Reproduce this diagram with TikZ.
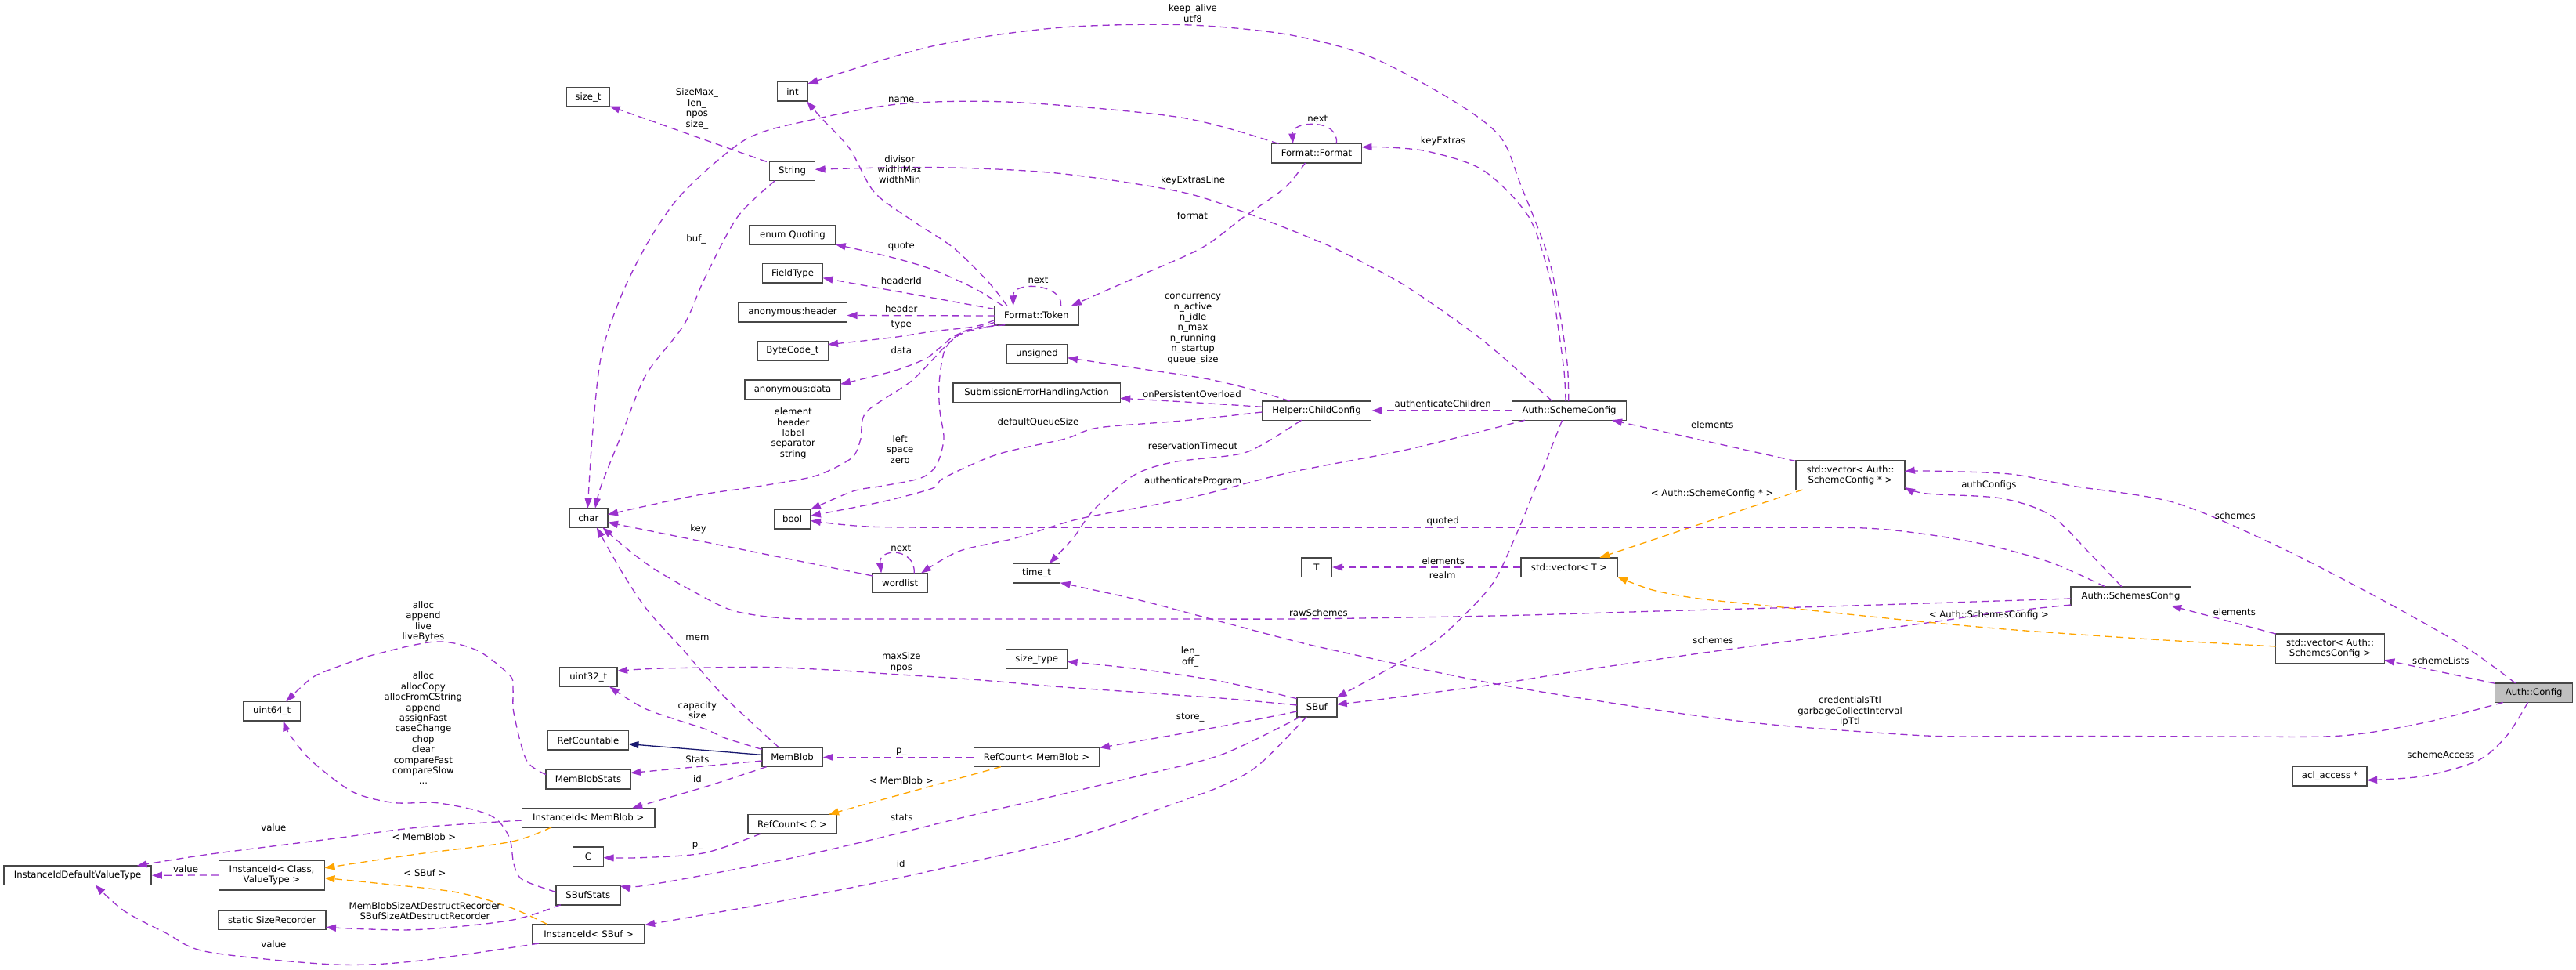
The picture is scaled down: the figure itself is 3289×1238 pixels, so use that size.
\documentclass[tikz,border=0pt]{standalone}
\usepackage{fontspec}
\setmainfont{DejaVu Sans}
\usetikzlibrary{arrows.meta}
\definecolor{purp}{HTML}{9A32CD}
\definecolor{orng}{HTML}{FFA500}
\definecolor{inhc}{HTML}{191970}
\definecolor{gfill}{HTML}{BFBFBF}
\newcommand{\myfs}{\fontsize{11.7}{13.4}\selectfont}
\tikzset{
 box/.style={draw=black!72, line width=1.5pt, fill=white, inner sep=0pt, minimum height=24.5pt, align=center, font=\myfs},
 box2/.style={box, minimum height=37.5pt},
 lbl/.style={inner sep=0pt, align=center, font=\myfs},
 uses/.style={draw=purp, line width=1.3pt, dash pattern=on 9pt off 6pt, -{Triangle[length=13pt,width=9pt,fill=purp]}},
 tmpl/.style={draw=orng, line width=1.3pt, dash pattern=on 9pt off 6pt, -{Triangle[length=13pt,width=9pt,fill=orng]}},
 inh/.style={draw=inhc, line width=1.3pt, -{Triangle[length=13pt,width=9pt,fill=inhc]}},
}
\begin{document}
\begin{tikzpicture}[x=1pt,y=-1pt]
\useasboundingbox (0,0) rectangle (3289,1238);
\fill[white] (0,0) rectangle (3289,1238);
% nodes
\node[box, minimum width=55pt] (sizet) at (751,124) {size\_t};
\node[box, minimum width=39pt] (int) at (1012,117) {int};
\node[box, minimum width=58pt] (String) at (1011.6,218.5) {String};
\node[box, minimum width=110pt] (quoting) at (1012,300) {enum Quoting};
\node[box, minimum width=77pt] (fieldtype) at (1012,349) {FieldType};
\node[box, minimum width=139pt] (anonheader) at (1012,398.5) {anonymous:header};
\node[box, minimum width=90.5pt] (bytecode) at (1012,447.6) {ByteCode\_t};
\node[box, minimum width=122pt] (anondata) at (1012,497) {anonymous:data};
\node[box, minimum width=49.3pt] (char) at (751.4,661) {char};
\node[box, minimum width=46.6pt] (bool) at (1011.6,662.5) {bool};
\node[box, minimum width=70pt] (wordlist) at (1149.2,743.8) {wordlist};
\node[box, minimum width=107pt] (token) at (1323.3,402.5) {Format::Token};
\node[box, minimum width=78pt] (unsigned) at (1324,451.5) {unsigned};
\node[box, minimum width=213.3pt] (seha) at (1323.6,501) {SubmissionErrorHandlingAction};
\node[box, minimum width=60pt] (timet) at (1323.6,731.5) {time\_t};
\node[box, minimum width=115pt] (format) at (1681,195.7) {Format::Format};
\node[box, minimum width=139.3pt] (helper) at (1681,524) {Helper::ChildConfig};
\node[box, minimum width=146pt] (schemecfg) at (2003.6,524) {Auth::SchemeConfig};
\node[box2, minimum width=138.6pt] (vecsc) at (2362.5,606.6) {std::vector< Auth::\\SchemeConfig * >};
\node[box, minimum width=38.6pt] (T) at (1681,724) {T};
\node[box, minimum width=123pt] (vecT) at (2003.6,724) {std::vector< T >};
\node[box, minimum width=51pt] (sbuf) at (1681.3,902.6) {SBuf};
\node[box, minimum width=153.5pt] (schemescfg) at (2720.5,761) {Auth::SchemesConfig};
\node[box2, minimum width=138.6pt] (vecscs) at (2975,827.7) {std::vector< Auth::\\SchemesConfig >};
\node[box, minimum width=99pt, fill=gfill] (authconfig) at (3235.2,884.2) {Auth::Config};
\node[box, minimum width=94.7pt] (acl) at (2974.8,990.5) {acl\_access *};
\node[box, minimum width=73.5pt] (uint32) at (751.3,864) {uint32\_t};
\node[box, minimum width=73pt] (uint64) at (347.2,907.8) {uint64\_t};
\node[box, minimum width=102.7pt] (refcountable) at (751,944.8) {RefCountable};
\node[box, minimum width=108pt] (memblobstats) at (751,994.5) {MemBlobStats};
\node[box, minimum width=169.5pt] (idmemblob) at (751.2,1043.5) {InstanceId< MemBlob >};
\node[box, minimum width=39.2pt] (C) at (751,1093.2) {C};
\node[box, minimum width=82pt] (sbufstats) at (750.8,1142.5) {SBufStats};
\node[box, minimum width=143pt] (idsbuf) at (751.6,1191.8) {InstanceId< SBuf >};
\node[box, minimum width=188.4pt] (idvt) at (99,1117.2) {InstanceIdDefaultValueType};
\node[box2, minimum width=135pt] (idcv) at (347,1117) {InstanceId< Class,\\ValueType >};
\node[box, minimum width=137.6pt] (sizerec) at (347.2,1174) {static SizeRecorder};
\node[box, minimum width=78pt] (sizetype) at (1323.6,841) {size\_type};
\node[box, minimum width=77.2pt] (memblob) at (1011.6,966.4) {MemBlob};
\node[box, minimum width=160.4pt] (refcountmb) at (1323.6,966.4) {RefCount< MemBlob >};
\node[box, minimum width=113.2pt] (refcountc) at (1011.6,1051.7) {RefCount< C >};
% edges
\draw[uses] plot[smooth] coordinates {([xshift=-1pt,yshift=12.25pt]schemecfg.center) (2000,455) (1979,336) (1942,237) (1915,174) (1852,126.5) (1746,71) (1640,43.5) (1508,31.6) (1349,35.6) (1190,59) ([xshift=19.6pt,yshift=10.2pt]int.center)};
\draw[uses] plot[smooth] coordinates {([xshift=-48.5pt,yshift=12.25pt]format.center) (1508,150) (1296,130.5) (1150.8,132.5) (1031.7,154) (952,178) (873,245) (830,304.5) (794,375.6) (767.5,454.7) (756,560) ([xshift=-1pt,yshift=12.25pt]char.center)};
\draw[uses] ([xshift=-32.8pt,yshift=12.1pt]String.center) -- ([xshift=27.6pt,yshift=-11.6pt]sizet.center);
\draw[uses] plot[smooth] coordinates {([xshift=-22.2pt,yshift=-12.25pt]String.center) (941.7,276.8) (899.4,355.9) (873,415) (825,478) (794,553.6) (767.5,620) ([xshift=8.6pt,yshift=12.25pt]char.center)};
\draw[uses] plot[smooth] coordinates {([xshift=-37.5pt,yshift=12.25pt]token.center) (1262,360) (1217,316) (1164,281) (1116,245) (1085,190) (1050,152) ([xshift=18pt,yshift=-12.25pt]int.center)};
\draw[uses] plot[smooth] coordinates {([xshift=-14.5pt,yshift=-12.25pt]format.center) (1640,240) (1588,277) (1535,316) (1455,352) ([xshift=44.5pt,yshift=12.25pt]token.center)};
\draw[uses] ([xshift=31.3pt,yshift=12.25pt]token.center) .. controls ([xshift=35pt,yshift=40pt]token.center) and ([xshift=-30pt,yshift=45pt]token.center) .. ([xshift=-29.6pt,yshift=12.25pt]token.center);
\draw[uses] ([xshift=25.2pt,yshift=12.25pt]format.center) .. controls ([xshift=30pt,yshift=45pt]format.center) and ([xshift=-32pt,yshift=42pt]format.center) .. ([xshift=-30.4pt,yshift=12.25pt]format.center);
\draw[uses] plot[smooth] coordinates {([xshift=-43pt,yshift=12.25pt]token.center) (1243.4,367.7) (1190.5,344) (1137.6,328.2) ([xshift=54.7pt,yshift=-12pt]quoting.center)};
\draw[uses] ([xshift=-53.5pt,yshift=8pt]token.center) -- ([xshift=38.5pt,yshift=-5.7pt]fieldtype.center);
\draw[uses] ([xshift=-53.5pt,yshift=-0.5pt]token.center) -- ([xshift=69.5pt,yshift=-4pt]anonheader.center);
\draw[uses] plot[smooth] coordinates {([xshift=-53.5pt,yshift=-6pt]token.center) (1243.4,417) (1190.5,423) (1137.6,431) ([xshift=45pt,yshift=7.9pt]bytecode.center)};
\draw[uses] plot[smooth] coordinates {([xshift=-53.5pt,yshift=-9pt]token.center) (1222,427) (1201,443) (1180,458.7) (1137.6,474.5) ([xshift=61pt,yshift=6.7pt]anondata.center)};
\draw[uses] plot[smooth] coordinates {([xshift=-50pt,yshift=-12.25pt]token.center) (1230,425) (1206,443) (1164,486) (1106,526) (1099,560) (1089,583) (1060,600) (1031,610) (960,622) (885,633) ([xshift=24.6pt,yshift=4.3pt]char.center)};
\draw[uses] plot[smooth] coordinates {([xshift=-40pt,yshift=-12.25pt]token.center) (1233,422) (1207,445) (1199,490) (1200,525) (1205,560) (1196,593) (1176,610) (1128,620) (1089,627) ([xshift=23.3pt,yshift=12.25pt]bool.center)};
\draw[uses] plot[smooth] coordinates {([xshift=-34.3pt,yshift=12.25pt]helper.center) (1587.5,494.3) (1534.6,482.4) (1455,470.5) ([xshift=39pt,yshift=-5.2pt]unsigned.center)};
\draw[uses] plot[smooth] coordinates {([xshift=-69.6pt,yshift=4.7pt]helper.center) (1513,513) ([xshift=106.6pt,yshift=-7.3pt]seha.center)};
\draw[uses] plot[smooth] coordinates {([xshift=-69.6pt,yshift=-2pt]helper.center) (1513,536.7) (1402,546) (1360,560) (1273,580) (1205,610) (1191,623) (1128,640) ([xshift=23.3pt,yshift=4.2pt]bool.center)};
\draw[uses] plot[smooth] coordinates {([xshift=-19.3pt,yshift=-12.25pt]helper.center) (1613,566.7) (1580,580) (1497,590) (1447,607) (1397,650) (1370,687) ([xshift=16pt,yshift=12.25pt]timet.center)};
\draw[uses] (schemecfg.west) -- (helper.east);
\draw[uses] plot[smooth] coordinates {([xshift=-56.6pt,yshift=-12.25pt]schemecfg.center) (1799,573.3) (1647,603) (1513,636.7) (1380,661.7) (1297,686.7) (1225,703.3) ([xshift=26.8pt,yshift=12.25pt]wordlist.center)};
\draw[uses] plot[smooth] coordinates {([xshift=-22pt,yshift=12.25pt]schemecfg.center) (1894,435) (1799,367.7) (1740,335) (1693,312) (1600,275) (1508,245) (1349,221) (1190.5,213.5) ([xshift=29pt,yshift=2.2pt]String.center)};
\draw[uses] plot[smooth] coordinates {([xshift=-4.6pt,yshift=12.25pt]schemecfg.center) (1997,474) (1989,415) (1979,356) (1952,277) (1894,217.5) (1825,193.7) (1772,188) ([xshift=57.5pt,yshift=7.9pt]format.center)};
\draw[uses] plot[smooth] coordinates {([xshift=-9pt,yshift=-12.25pt]schemecfg.center) (1963,616) (1936,682) (1905,746) (1852,802) (1820,827) (1767,857) ([xshift=25.4pt,yshift=12.25pt]sbuf.center)};
\draw[uses] ([xshift=-69.3pt,yshift=18pt]vecsc.center) -- ([xshift=54.4pt,yshift=-12.25pt]schemecfg.center);
\draw[tmpl] ([xshift=-61pt,yshift=-18.5pt]vecsc.center) -- ([xshift=38.7pt,yshift=12.25pt]vecT.center);
\draw[uses] (vecT.west) -- (T.east);
\draw[uses] plot[smooth] coordinates {([xshift=-11.7pt,yshift=12.25pt]schemescfg.center) (2671.7,710) (2618.8,658) (2555.3,636) (2460,630) ([xshift=69.3pt,yshift=-15.4pt]vecsc.center)};
\draw[uses] plot[smooth] coordinates {([xshift=-23.6pt,yshift=12.25pt]authconfig.center) (3148,826) (3042,766) (2910,698) (2778,642) (2645,620) (2566,605) (2460,601) ([xshift=69.3pt,yshift=4.8pt]vecsc.center)};
\draw[uses] plot[smooth] coordinates {([xshift=-32.9pt,yshift=12.25pt]schemescfg.center) (2618.8,718) (2539.4,696) (2460,682) (2381,674) (2250,673.3) (2100,673.3) (1950,673.3) (1800,673.3) (1650,673.3) (1500,673.3) (1350,673.3) (1220,673.3) (1120,672.5) (1070,669) ([xshift=23.3pt,yshift=-2pt]bool.center)};
\draw[uses] plot[smooth] coordinates {([xshift=-76.7pt,yshift=-3pt]schemescfg.center) (2550,767) (2460,770) (2300,775) (2116,780) (1950,785) (1800,788) (1650,790) (1500,790) (1350,790) (1200,790) (1080,790) (1000,789) (935,779) (880,752) (835,726) (800,700) ([xshift=18pt,yshift=-12.25pt]char.center)};
\draw[uses] plot[smooth] coordinates {([xshift=-76.7pt,yshift=-11pt]schemescfg.center) (2550,782) (2460,795) (2310,815) (2169,834) (2030,854) (1905,874) (1820,885) (1760,893) ([xshift=25.4pt,yshift=3.6pt]sbuf.center)};
\draw[uses] ([xshift=-69.3pt,yshift=18.7pt]vecscs.center) -- ([xshift=51.8pt,yshift=-12.25pt]schemescfg.center);
\draw[tmpl] plot[smooth] coordinates {([xshift=-69.3pt,yshift=2.7pt]vecscs.center) (2780,818) (2671.7,811) (2560,803) (2460,794) (2360,784) (2275,775) (2169,764) (2110,753) ([xshift=61.5pt,yshift=-12.25pt]vecT.center)};
\draw[uses] ([xshift=-49.5pt,yshift=11.9pt]authconfig.center) -- ([xshift=69.3pt,yshift=-14.6pt]vecscs.center);
\draw[uses] plot[smooth] coordinates {([xshift=-39.5pt,yshift=-12.25pt]authconfig.center) (3095,922.4) (2989,939) (2850,940) (2700,939.5) (2580,939.5) (2460,939) (2275,926) (2163,913) (2063,898) (1980,885) (1905,872) (1820,855) (1740,838) (1660,820) (1561,794) (1455,766) ([xshift=30pt,yshift=-12.25pt]timet.center)};
\draw[uses] plot[smooth] coordinates {([xshift=-7.7pt,yshift=-12.25pt]authconfig.center) (3201,938.4) (3164,970.5) (3095,990.5) ([xshift=47.3pt,yshift=-5.2pt]acl.center)};
\draw[uses] plot[smooth] coordinates {([xshift=-25.4pt,yshift=2.6pt]sbuf.center) (1567,891.7) (1460,884) (1349,876.3) (1240,867) (1137.6,860.3) (1060,855) (978.8,851.5) (900,852) (830,853.5) ([xshift=36.8pt,yshift=7.7pt]uint32.center)};
\draw[uses] plot[smooth] coordinates {([xshift=-25.4pt,yshift=10.9pt]sbuf.center) (1561,870) (1455,854) ([xshift=39pt,yshift=-3.3pt]sizetype.center)};
\draw[uses] plot[smooth] coordinates {([xshift=-25.4pt,yshift=-5.4pt]sbuf.center) (1587.5,921.6) (1508,936.4) ([xshift=80.2pt,yshift=12pt]refcountmb.center)};
\draw[uses] plot[smooth] coordinates {([xshift=-21pt,yshift=-12.25pt]sbuf.center) (1560,963) (1455,990) (1350,1015) (1243,1040) (1137,1066) (1031.7,1090.6) (920,1113) (820,1130.7) ([xshift=41pt,yshift=11.8pt]sbufstats.center)};
\draw[uses] plot[smooth] coordinates {([xshift=-13pt,yshift=-12.25pt]sbuf.center) (1606.7,976.7) (1560,1003) (1508,1022.5) (1430,1050) (1349,1074.6) (1240,1100) (1137.6,1122.6) (1030,1144) (926,1162.7) (850,1176) ([xshift=71.5pt,yshift=11.3pt]idsbuf.center)};
\draw[uses] plot[smooth] coordinates {([xshift=-16.9pt,yshift=12.25pt]memblob.center) (926,890.4) (873,830.3) (826,778) (794,730) ([xshift=10.4pt,yshift=-12.25pt]char.center)};
\draw[uses] plot[smooth] coordinates {([xshift=-38.6pt,yshift=10pt]memblob.center) (926,942) (899,930) (825,905) ([xshift=26.7pt,yshift=-12.25pt]uint32.center)};
\draw[inh] ([xshift=-38.6pt,yshift=3pt]memblob.center) -- ([xshift=51.4pt,yshift=-4.8pt]refcountable.center);
\draw[uses] ([xshift=-38.6pt,yshift=-4.6pt]memblob.center) -- ([xshift=54pt,yshift=8pt]memblobstats.center);
\draw[uses] plot[smooth] coordinates {([xshift=-33pt,yshift=-12.25pt]memblob.center) (899.4,1004.5) ([xshift=56pt,yshift=12.25pt]idmemblob.center)};
\draw[uses] (refcountmb.west) -- (memblob.east);
\draw[tmpl] ([xshift=-45.8pt,yshift=-12.25pt]refcountmb.center) -- ([xshift=46.4pt,yshift=12.25pt]refcountc.center);
\draw[uses] plot[smooth] coordinates {([xshift=-40pt,yshift=-12.25pt]refcountc.center) (899.4,1088.6) (820,1094.6) ([xshift=19.6pt,yshift=-1.4pt]C.center)};
\draw[uses] plot[smooth] coordinates {([xshift=-84.8pt,yshift=-3.5pt]idmemblob.center) (529,1056.6) (423.4,1070.6) (264.7,1090.6) ([xshift=75.7pt,yshift=12.25pt]idvt.center)};
\draw[tmpl] plot[smooth] coordinates {([xshift=-47pt,yshift=-12.25pt]idmemblob.center) (651,1074.6) (529,1090.6) ([xshift=67.5pt,yshift=9.2pt]idcv.center)};
\draw[uses] (idcv.west) -- (idvt.east);
\draw[tmpl] plot[smooth] coordinates {([xshift=-53pt,yshift=12.25pt]idsbuf.center) (651,1158) (582,1138.6) (476.4,1126.7) ([xshift=67.5pt,yshift=-3.6pt]idcv.center)};
\draw[uses] plot[smooth] coordinates {([xshift=-63.6pt,yshift=-12.25pt]idsbuf.center) (529,1226.8) (423.4,1230.8) (264.6,1214.8) (211.7,1190.7) (158.8,1162.7) ([xshift=22.7pt,yshift=-12.25pt]idvt.center)};
\draw[uses] plot[smooth] coordinates {([xshift=-35pt,yshift=-12.25pt]sbufstats.center) (651,1174.7) (529,1186.7) ([xshift=68.8pt,yshift=-9.5pt]sizerec.center)};
\draw[uses] plot[smooth] coordinates {([xshift=-41pt,yshift=4pt]sbufstats.center) (667,1122.6) (656,1102.6) (651,1070.6) (635,1046.5) (608.7,1034.5) (555.8,1024.5) (502.8,1024.5) (450,1010.5) (397,970.4) (370.5,938.4) ([xshift=14.3pt,yshift=-12.25pt]uint64.center)};
\draw[uses] plot[smooth] coordinates {([xshift=-54pt,yshift=6pt]memblobstats.center) (672,970) (656,910) (655,880) (651,862) (609,830) (556,819) (476,836) (423,854) (397,866) ([xshift=18pt,yshift=12.25pt]uint64.center)};
\draw[uses] ([xshift=-35pt,yshift=8.8pt]wordlist.center) -- ([xshift=24.6pt,yshift=-5.7pt]char.center);
\draw[uses] ([xshift=18pt,yshift=12.25pt]wordlist.center) .. controls ([xshift=20pt,yshift=45pt]wordlist.center) and ([xshift=-28pt,yshift=45pt]wordlist.center) .. ([xshift=-24pt,yshift=12.25pt]wordlist.center);
% labels
\node[lbl] (l1) at (1523,17.2) {keep\_alive\\utf8};
\node[lbl] (l2) at (1150.8,126.9) {name};
\node[lbl] (l3) at (889.9,139) {SizeMax\_\\len\_\\npos\\size\_};
\node[lbl] (l4) at (888.8,305.6) {buf\_};
\node[lbl] (l5) at (1148.7,216.2) {divisor\\widthMax\\widthMin};
\node[lbl] (l6) at (1522.4,275.6) {format};
\node[lbl] (l7) at (1325.5,357.8) {next};
\node[lbl] (l8) at (1682.3,151.8) {next};
\node[lbl] (l9) at (1150.8,315.1) {quote};
\node[lbl] (l10) at (1150.8,358.6) {headerId};
\node[lbl] (l11) at (1150.8,394.2) {header};
\node[lbl] (l12) at (1150.8,414.8) {type};
\node[lbl] (l13) at (1150.8,446.8) {data};
\node[lbl] (l14) at (1012.7,553.3) {element\\header\\label\\separator\\string};
\node[lbl] (l15) at (1149.2,573.3) {left\\space\\zero};
\node[lbl] (l16) at (1523,420) {concurrency\\n\_active\\n\_idle\\n\_max\\n\_running\\n\_startup\\queue\_size};
\node[lbl] (l17) at (1521.9,503) {onPersistentOverload};
\node[lbl] (l18) at (1325.5,538.5) {defaultQueueSize};
\node[lbl] (l19) at (1523,569.5) {reservationTimeout};
\node[lbl] (l20) at (1523,614.5) {authenticateProgram};
\node[lbl] (l21) at (1523,230.5) {keyExtrasLine};
\node[lbl] (l22) at (1842.7,179.9) {keyExtras};
\node[lbl] (l23) at (1842.2,515.6) {authenticateChildren};
\node[lbl] (l24) at (2186.2,541.7) {elements};
\node[lbl] (l25) at (2186.2,630.4) {< Auth::SchemeConfig * >};
\node[lbl] (l26) at (1842.2,665.7) {quoted};
\node[lbl] (l27) at (1842.7,715.7) {elements};
\node[lbl] (l28) at (1841.7,734.6) {realm};
\node[lbl] (l29) at (1683.4,782.6) {rawSchemes};
\node[lbl] (l30) at (2187.3,817.5) {schemes};
\node[lbl] (l31) at (2362,908) {credentialsTtl\\garbageCollectInterval\\ipTtl};
\node[lbl] (l32) at (2539.4,619.2) {authConfigs};
\node[lbl] (l33) at (2853.8,658.5) {schemes};
\node[lbl] (l34) at (2539.4,785.4) {< Auth::SchemesConfig >};
\node[lbl] (l35) at (2852.7,781.4) {elements};
\node[lbl] (l36) at (3116.3,842.7) {schemeLists};
\node[lbl] (l37) at (3116.3,963.6) {schemeAccess};
\node[lbl] (l38) at (891.5,675.7) {key};
\node[lbl] (l39) at (1150.3,699.7) {next};
\node[lbl] (l40) at (890.4,814.7) {mem};
\node[lbl] (l41) at (1150.8,845.3) {maxSize\\npos};
\node[lbl] (l42) at (1519.7,838.5) {len\_\\off\_};
\node[lbl] (l43) at (890.4,906.8) {capacity\\size};
\node[lbl] (l44) at (1519.7,916) {store\_};
\node[lbl] (l45) at (890.4,969.7) {Stats};
\node[lbl] (l46) at (1150.8,959.6) {p\_};
\node[lbl] (l47) at (890.4,993.7) {id};
\node[lbl] (l48) at (1150.8,995.7) {< MemBlob >};
\node[lbl] (l49) at (1151.3,1043.7) {stats};
\node[lbl] (l50) at (890.4,1079.8) {p\_};
\node[lbl] (l51) at (1150.3,1102.6) {id};
\node[lbl] (l52) at (540.4,793.4) {alloc\\append\\live\\liveBytes};
\node[lbl] (l53) at (540.4,929.4) {alloc\\allocCopy\\allocFromCString\\append\\assignFast\\caseChange\\chop\\clear\\compareFast\\compareSlow\\...};
\node[lbl] (l54) at (349.3,1055.8) {value};
\node[lbl] (l55) at (541.5,1067.8) {< MemBlob >};
\node[lbl] (l56) at (237.1,1109.4) {value};
\node[lbl] (l57) at (542.5,1114.6) {< SBuf >};
\node[lbl] (l58) at (542.5,1162.5) {MemBlobSizeAtDestructRecorder\\SBufSizeAtDestructRecorder};
\node[lbl] (l59) at (349.3,1205.5) {value};
\end{tikzpicture}
\end{document}
